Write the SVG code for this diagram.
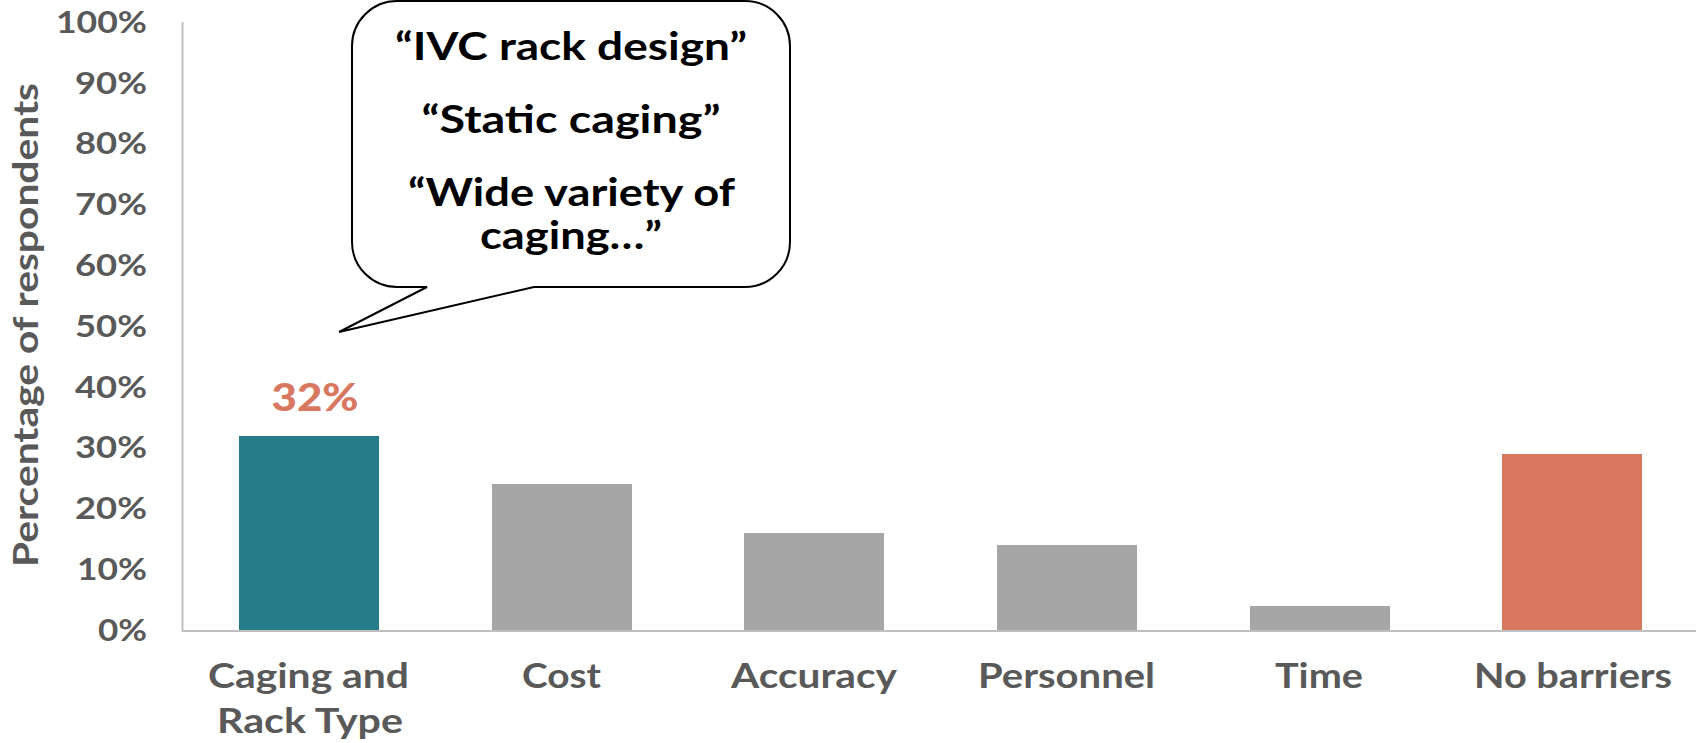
<svg xmlns="http://www.w3.org/2000/svg" width="1696" height="743" viewBox="0 0 1696 743">
<style>
.tick{font-family:Lato,"Liberation Sans",sans-serif;font-weight:700;font-size:30px;fill:#595959;text-anchor:end}
.cat{font-family:Lato,"Liberation Sans",sans-serif;font-weight:700;font-size:35px;fill:#595959;text-anchor:middle}
.q{font-family:Lato,"Liberation Sans",sans-serif;font-weight:700;font-size:39px;fill:#000;text-anchor:middle}
.axis{stroke:#bfbfbf;stroke-width:2;fill:none}
.gray{fill:#a6a6a6}
</style>
<rect width="1696" height="743" fill="#fff"/>
<g id="y-axis-title">
<text class="cat" transform="translate(38,325) rotate(-90)" textLength="484" lengthAdjust="spacingAndGlyphs">Percentage of respondents</text>
</g>
<g id="y-ticks">
<text class="tick" x="147" y="33" textLength="91" lengthAdjust="spacingAndGlyphs">100%</text>
<text class="tick" x="147" y="94" textLength="72" lengthAdjust="spacingAndGlyphs">90%</text>
<text class="tick" x="147" y="154" textLength="72" lengthAdjust="spacingAndGlyphs">80%</text>
<text class="tick" x="147" y="215" textLength="72" lengthAdjust="spacingAndGlyphs">70%</text>
<text class="tick" x="147" y="276" textLength="72" lengthAdjust="spacingAndGlyphs">60%</text>
<text class="tick" x="147" y="337" textLength="72" lengthAdjust="spacingAndGlyphs">50%</text>
<text class="tick" x="147" y="398" textLength="72" lengthAdjust="spacingAndGlyphs">40%</text>
<text class="tick" x="147" y="458" textLength="72" lengthAdjust="spacingAndGlyphs">30%</text>
<text class="tick" x="147" y="519" textLength="72" lengthAdjust="spacingAndGlyphs">20%</text>
<text class="tick" x="147" y="580" textLength="70" lengthAdjust="spacingAndGlyphs">10%</text>
<text class="tick" x="147" y="641" textLength="49" lengthAdjust="spacingAndGlyphs">0%</text>
</g>
<g id="bars">
<rect id="bar-caging" x="239" y="436" width="140" height="194" fill="#277c8a"/>
<rect id="bar-cost" class="gray" x="492" y="484" width="140" height="146"/>
<rect id="bar-accuracy" class="gray" x="744" y="533" width="140" height="97"/>
<rect id="bar-personnel" class="gray" x="997" y="545" width="140" height="85"/>
<rect id="bar-time" class="gray" x="1250" y="606" width="140" height="24"/>
<rect id="bar-nobarriers" x="1502" y="454" width="140" height="176" fill="#d87861"/>
</g>
<g id="axes">
<line class="axis" x1="182.5" y1="22" x2="182.5" y2="631"/>
<line class="axis" x1="182" y1="631" x2="1696" y2="631"/>
</g>
<g id="value-label">
<text x="315" y="411" textLength="87" lengthAdjust="spacingAndGlyphs" style="font-family:Lato,'Liberation Sans',sans-serif;font-weight:900;font-size:38px;fill:#d87861;text-anchor:middle">32%</text>
</g>
<g id="categories">
<text class="cat" x="308.5" y="688" textLength="201" lengthAdjust="spacingAndGlyphs">Caging and</text>
<text class="cat" x="310" y="733" textLength="186" lengthAdjust="spacingAndGlyphs">Rack Type</text>
<text class="cat" x="561.5" y="688" textLength="79" lengthAdjust="spacingAndGlyphs">Cost</text>
<text class="cat" x="814" y="688" textLength="166" lengthAdjust="spacingAndGlyphs">Accuracy</text>
<text class="cat" x="1066.5" y="688" textLength="177" lengthAdjust="spacingAndGlyphs">Personnel</text>
<text class="cat" x="1319" y="688" textLength="88" lengthAdjust="spacingAndGlyphs">Time</text>
<text class="cat" x="1573" y="688" textLength="198" lengthAdjust="spacingAndGlyphs">No barriers</text>
</g>
<g id="callout">
<path d="M397,1 H745 A45,45 0 0 1 790,46 V242 A45,45 0 0 1 745,287 H534 L339,332 L427,287 H397 A45,45 0 0 1 352,242 V46 A45,45 0 0 1 397,1 Z" fill="#fff" stroke="#000" stroke-width="2"/>
<text class="q" x="571" y="60" textLength="352" lengthAdjust="spacingAndGlyphs">“IVC rack design”</text>
<text class="q" x="571" y="133" textLength="299" lengthAdjust="spacingAndGlyphs">“Static caging”</text>
<text class="q" x="571.5" y="206" textLength="327" lengthAdjust="spacingAndGlyphs">“Wide variety of</text>
<text class="q" x="571" y="249" textLength="182" lengthAdjust="spacingAndGlyphs">caging…”</text>
</g>
</svg>
